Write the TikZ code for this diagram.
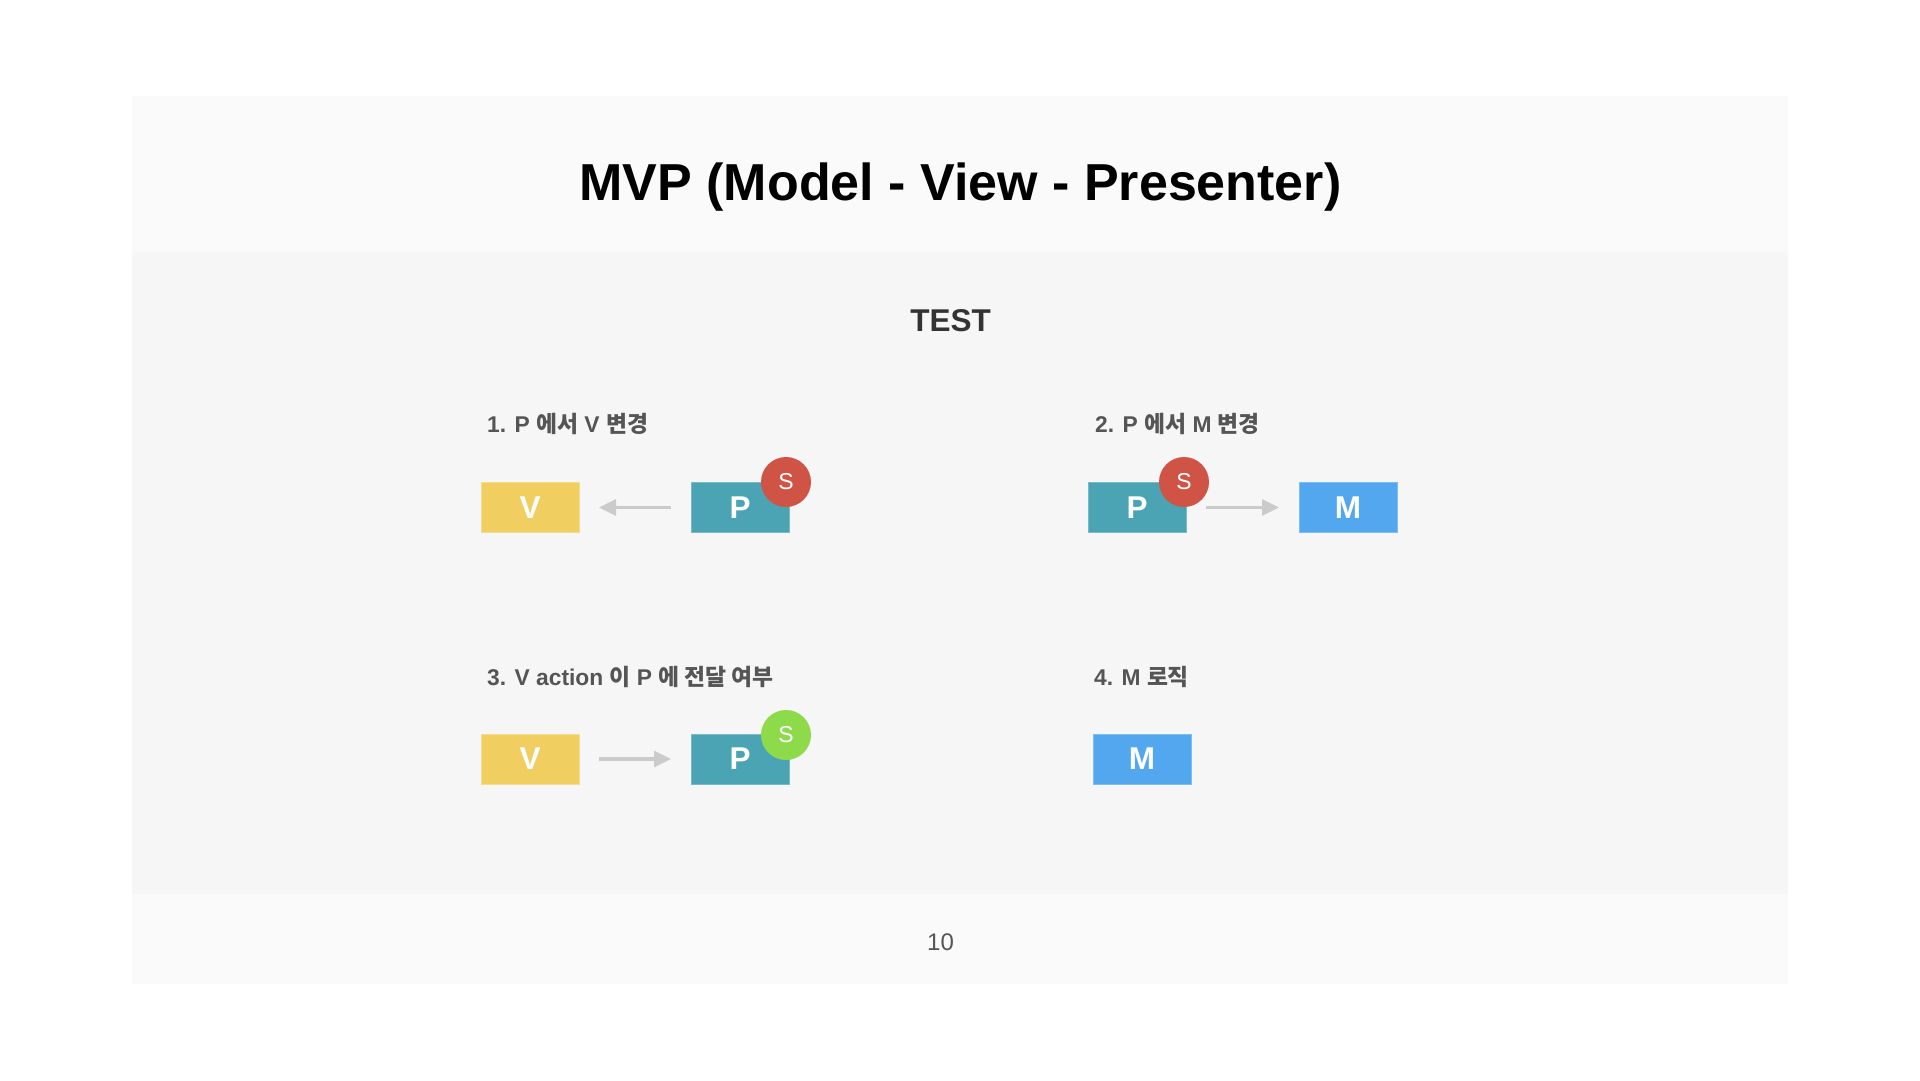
\documentclass[tikz,border=0pt]{standalone}
\usepackage{fontspec}
\setmainfont{Liberation Sans}
\newfontfamily\kr{Noto Sans CJK KR}
\usetikzlibrary{arrows.meta,calc}

\definecolor{bandlight}{HTML}{FAFAFA}
\definecolor{bandmid}{HTML}{F6F6F6}
\definecolor{viewyellow}{HTML}{F0CE60}
\definecolor{presteal}{HTML}{4BA4B4}
\definecolor{modelblue}{HTML}{53A7EF}
\definecolor{stubred}{HTML}{CF5446}
\definecolor{stubgreen}{HTML}{8DDA4B}
\definecolor{flowgray}{HTML}{CBCBCB}
\definecolor{labelgray}{HTML}{555555}
\definecolor{headgray}{HTML}{333333}

\tikzset{
  unit/.style={minimum width=98pt, minimum height=50pt, inner sep=0pt,
    text=white, font=\fontsize{31.5}{36}\selectfont\bfseries, line width=1pt},
  viewbox/.style={unit, fill=viewyellow, draw=viewyellow!70!white},
  presbox/.style={unit, fill=presteal, draw=presteal!75!white},
  modelbox/.style={unit, fill=modelblue, draw=modelblue!75!white},
  stub/.style={circle, minimum size=50pt, inner sep=0pt, text=white,
    font=\fontsize{23}{26}\selectfont},
  flow/.style={draw=flowgray, line width=3.3pt,
    -{Triangle[length=17pt,width=16pt]}, shorten <=19.5pt, shorten >=19.5pt},
  caselabel/.style={anchor=base west, inner sep=0pt, text=labelgray,
    font=\fontsize{22.8}{27}\selectfont\bfseries}
}

\begin{document}
\begin{tikzpicture}[x=1pt,y=-1pt]
  \useasboundingbox (0,0) rectangle (1920,1080);
  \fill[white] (0,0) rectangle (1920,1080);

  % slide bands
  \fill[bandlight] (132,96) rectangle (1788,252);
  \fill[bandmid] (132,252) rectangle (1788,894);
  \fill[bandlight] (132,894) rectangle (1788,984);

  % headings
  \node[anchor=base, inner sep=0pt, font=\fontsize{52}{62}\selectfont\bfseries]
    (title) at (960.5,200.7) {MVP (Model - View - Presenter)};
  \node[anchor=base, inner sep=0pt, text=headgray,
    font=\fontsize{31.5}{36}\selectfont\bfseries] (test) at (950.7,331.7) {TEST};

  % case 1
  \node[caselabel] (l1) at (487,432) {1. P {\kr 에서} V {\kr 변경}};
  \node[viewbox] (v1) at (530,507.5) {V};
  \node[presbox] (p1) at (740,507.5) {P};
  \node[stub, fill=stubred] (s1) at (786,482) {S};
  \draw[flow] (p1) -- (v1);

  % case 2
  \node[caselabel] (l2) at (1095,432) {2. P {\kr 에서} M {\kr 변경}};
  \node[presbox] (p2) at (1137,507.5) {P};
  \node[stub, fill=stubred] (s2) at (1184,482) {S};
  \node[modelbox] (m2) at (1348,507.5) {M};
  \draw[flow] (p2) -- (m2);

  % case 3
  \node[caselabel] (l3) at (487,685.7) {3. V action {\kr 이} P {\kr 에 전달 여부}};
  \node[viewbox] (v3) at (530,759) {V};
  \node[presbox] (p3) at (740,759) {P};
  \node[stub, fill=stubgreen] (s3) at (786,735) {S};
  \draw[flow] (v3) -- (p3);

  % case 4
  \node[caselabel] (l4) at (1094,685.7) {4. M {\kr 로직}};
  \node[modelbox] (m4) at (1142,759) {M};

  % page number
  \node[anchor=base, inner sep=0pt, text=labelgray,
    font=\fontsize{24}{28}\selectfont] (page) at (940.5,950.7) {10};
\end{tikzpicture}
\end{document}
